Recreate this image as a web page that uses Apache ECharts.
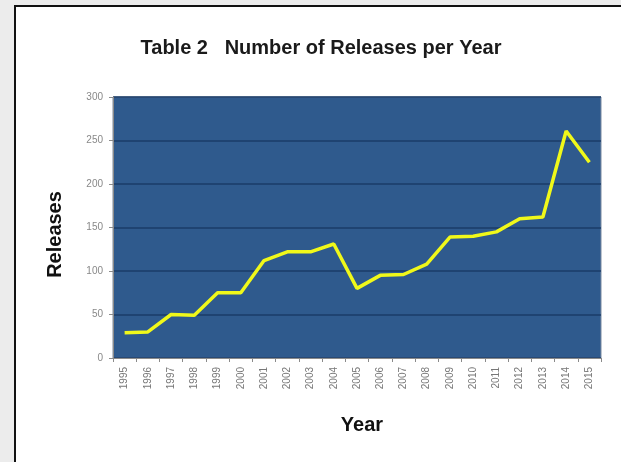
<!DOCTYPE html>
<html><head><meta charset="utf-8">
<script src="https://cdn.jsdelivr.net/npm/echarts@6/dist/echarts.min.js"></script>
<style>html,body{margin:0;padding:0;background:#ececec}#c{width:621px;height:462px}</style>
</head><body><div id="c"></div>
<script>
const years = ['1995','1996','1997','1998','1999','2000','2001','2002','2003','2004','2005','2006','2007','2008','2009','2010','2011','2012','2013','2014','2015'];
const releases = [29,30,50,49,75,75,112,122,122,131,80,95,96,108,139,140,145,160,162,261,225];
const yMin = 0, yMax = 300, yStep = 50;

const chart = echarts.init(document.getElementById('c'), null, {renderer:'canvas'});
chart.setOption({
  backgroundColor: 'transparent',
  animation: false,
  graphic: [{
    type: 'rect', z: -10, silent: true,
    shape: {x: 15, y: 6, width: 700, height: 520},
    style: {fill: '#ffffff', stroke: '#111111', lineWidth: 2}
  }],
  title: {
    text: 'Table 2   Number of Releases per Year',
    left: 316, top: 33, textAlign: 'center',
    textStyle: {fontFamily: 'Liberation Sans', fontWeight: 'bold', fontSize: 20, color: '#1a1a1a'}
  },
  grid: {
    left: 113, top: 97, width: 488, height: 261,
    show: true, backgroundColor: '#2f5a8d', borderColor: '#7a8aa0', borderWidth: 1
  },
  xAxis: {
    type: 'category', data: years, boundaryGap: true,
    name: 'Year', nameLocation: 'middle', nameGap: 57,
    nameTextStyle: {fontFamily: 'Liberation Sans', fontWeight: 'bold', fontSize: 20, color: '#111', padding: [0, 0, 0, 10]},
    axisLine: {show: true, lineStyle: {color: '#8a8a8a'}},
    axisTick: {show: true, length: 4, lineStyle: {color: '#8a8a8a'}},
    axisLabel: {rotate: 90, fontSize: 10, color: '#777', fontFamily: 'Liberation Sans', margin: 9}
  },
  yAxis: {
    type: 'value', min: yMin, max: yMax, interval: yStep,
    name: 'Releases', nameLocation: 'middle', nameGap: 48,
    nameTextStyle: {fontFamily: 'Liberation Sans', fontWeight: 'bold', fontSize: 20, color: '#111', padding: [0, 14, 0, 0]},
    axisLine: {show: true, lineStyle: {color: '#8a8a8a'}},
    axisTick: {show: true, length: 4, lineStyle: {color: '#8a8a8a'}},
    axisLabel: {fontSize: 10, color: '#888', fontFamily: 'Liberation Sans', margin: 10},
    splitLine: {show: true, lineStyle: {color: '#1b3c68', width: 1.5}}
  },
  series: [{
    type: 'line', data: releases, symbol: 'none', smooth: false,
    lineStyle: {color: '#f0f81a', width: 3.5},
    itemStyle: {color: '#f0f81a'}
  }]
});
</script></body></html>
